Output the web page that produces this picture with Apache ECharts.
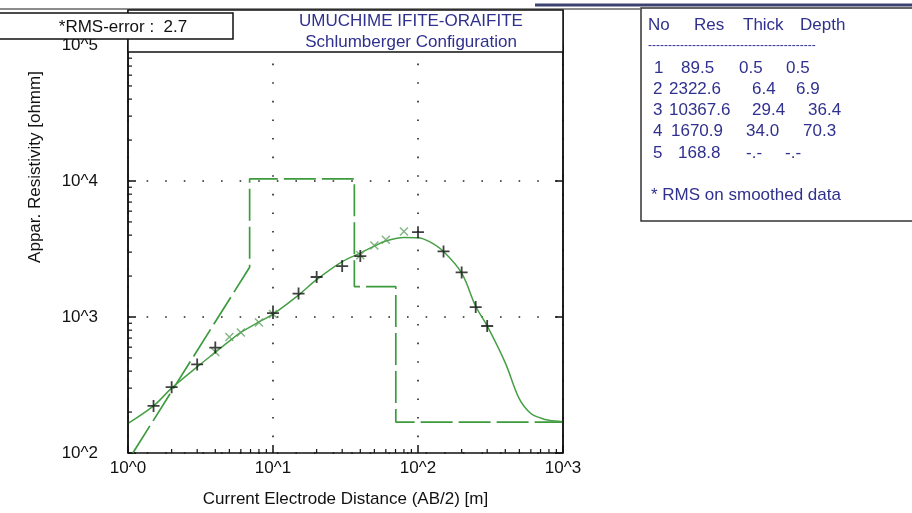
<!DOCTYPE html>
<html>
<head>
<meta charset="utf-8">
<title>UMUCHIME IFITE-ORAIFITE</title>
<script src="https://cdn.jsdelivr.net/npm/echarts@6/dist/echarts.min.js"></script>
<style>
  html, body { margin: 0; padding: 0; background: #fff; }
  #chart { width: 912px; height: 513px; }
</style>
</head>
<body>
<div id="chart"></div>
<script>
// Smoothed apparent resistivity curve (AB/2 in m, resistivity in ohm-m)
const curveX = [1, 1.5, 2, 3, 4, 5, 6, 8, 10, 15, 20, 30, 40, 50, 60, 80, 100, 120, 150, 200, 250, 300, 400, 500, 600, 700, 800, 1000];
const curveY = [165, 222, 300, 430, 550, 665, 770, 920, 1050, 1450, 1880, 2550, 2950, 3320, 3620, 3850, 3830, 3580, 3030, 2100, 1200, 860, 460, 250, 195, 181, 174, 170];

// Field readings
const fieldX = [1.5, 2, 3, 4, 10, 15, 20, 30, 40, 100, 150, 200, 250, 300];
const fieldY = [222, 305, 448, 596, 1069, 1486, 1968, 2368, 2803, 4204, 3033, 2128, 1183, 859];

// Smoothed readings
const smoothX = [4, 5, 6, 8, 10, 40, 50, 60, 80];
const smoothY = [553, 713, 769, 910, 1050, 2850, 3356, 3700, 4256];

// Layered model (inverted)
const layerNo = ['1', '2', '3', '4', '5'];
const layerRes = [89.5, 2322.6, 10367.6, 1670.9, 168.8];
const layerThick = ['0.5', '6.4', '29.4', '34.0', '-.-'];
const layerDepth = ['0.5', '6.9', '36.4', '70.3', '-.-'];
const modelStartX = 1.08;
const modelStartY = 100;

const xTickLabels = ['10^0', '10^1', '10^2', '10^3'];
const yTickLabels = ['10^2', '10^3', '10^4', '10^5'];
const rmsError = '2.7';

const FONT = '"Liberation Sans", Arial, sans-serif';
const NAVY = '#30308e';
const GREEN = '#3d9b3d';

// model step line built from resistivities and depths
const depthNums = layerDepth.slice(0, 4).map(Number);
const modelPts = [[modelStartX, modelStartY], [depthNums[1], layerRes[1]]];
for (let i = 2; i < layerRes.length; i++) {
  modelPts.push([depthNums[i - 1], layerRes[i]]);
  if (i < depthNums.length) modelPts.push([depthNums[i], layerRes[i]]);
}
modelPts.push([1000, layerRes[4]]);

// minor tick values for both log axes
function minorVals(lo, hi) {
  const out = [];
  for (let d = lo; d < hi; d *= 10) for (let k = 2; k <= 9; k++) out.push(d * k);
  return out;
}
const xMinor = minorVals(1, 1000);
const yMinor = minorVals(100, 100000);

const expLabel = (arr, base) => v => arr[Math.round(Math.log10(v)) - base] || '';

const chart = echarts.init(document.getElementById('chart'), null, { renderer: 'canvas' });

const GRID = { left: 128, right: 349, top: 45, bottom: 60 };

const option = {
  animation: false,
  backgroundColor: '#fff',
  grid: { left: GRID.left, right: GRID.right, top: GRID.top, bottom: GRID.bottom },
  xAxis: {
    type: 'log', logBase: 10, min: 1, max: 1000,
    name: 'Current Electrode Distance (AB/2) [m]',
    nameLocation: 'middle', nameGap: 38,
    nameTextStyle: { color: '#111', fontSize: 17, fontFamily: FONT },
    axisLine: { show: true, lineStyle: { color: '#111', width: 1.5 } },
    axisTick: { show: true, inside: true, length: 8, lineStyle: { color: '#111', width: 1.5 } },
    axisLabel: { color: '#111', fontSize: 17, fontFamily: FONT, margin: 7, formatter: expLabel(xTickLabels, 0) },
    splitLine: { show: true, lineStyle: { color: '#222', width: 1.6, type: [1.6, 17] } }
  },
  yAxis: [{
    type: 'log', logBase: 10, min: 100, max: 100000,
    axisLine: { show: true, lineStyle: { color: '#111', width: 1.5 } },
    axisTick: { show: true, inside: true, length: 8, lineStyle: { color: '#111', width: 1.5 } },
    axisLabel: { color: '#111', fontSize: 17, fontFamily: FONT, margin: 30, formatter: expLabel(yTickLabels, 2) },
    splitLine: { show: true, lineStyle: { color: '#222', width: 1.6, type: [1.6, 17] } }
  }, {
    type: 'log', logBase: 10, min: 100, max: 100000, position: 'right',
    axisLine: { show: true, lineStyle: { color: '#111', width: 1.5 } },
    axisTick: { show: true, inside: true, length: 8, lineStyle: { color: '#111', width: 1.5 } },
    axisLabel: { show: false },
    splitLine: { show: false }
  }],
  series: [
    {
      name: 'minor ticks',
      type: 'custom',
      silent: true,
      z: 5,
      data: xMinor.map(v => [v, 0]).concat(yMinor.map(v => [0, v])),
      renderItem: function (params, api) {
        const xv = api.value(0), yv = api.value(1);
        const rect = params.coordSys;
        let x1, y1, x2, y2;
        if (xv > 0) {
          const p = api.coord([xv, 100]);
          x1 = x2 = p[0]; y1 = rect.y + rect.height; y2 = y1 - 4;
        } else {
          const p = api.coord([1, yv]);
          y1 = y2 = p[1]; x1 = rect.x; x2 = x1 + 4;
        }
        return { type: 'line', shape: { x1, y1, x2, y2 }, style: { stroke: '#111', lineWidth: 1.2 } };
      }
    },
    {
      name: 'model',
      type: 'line',
      data: modelPts,
      symbol: 'none',
      z: 3,
      lineStyle: { color: GREEN, width: 1.7, type: [32, 6] }
    },
    {
      name: 'curve',
      type: 'line',
      data: curveX.map((x, i) => [x, curveY[i]]),
      symbol: 'none',
      smooth: 0.35,
      z: 4,
      lineStyle: { color: '#45a045', width: 1.5 }
    },
    {
      name: 'smoothed',
      type: 'scatter',
      data: smoothX.map((x, i) => [x, smoothY[i]]),
      symbol: 'path://M0,0L10,10M10,0L0,10',
      symbolSize: 8,
      z: 6,
      itemStyle: { color: 'none', borderColor: '#62a062', borderWidth: 1.4 }
    },
    {
      name: 'field',
      type: 'scatter',
      data: fieldX.map((x, i) => [x, fieldY[i]]),
      symbol: 'path://M0,5L10,5M5,0L5,10',
      symbolSize: 12,
      z: 7,
      itemStyle: { color: 'none', borderColor: '#111', borderWidth: 1.8 }
    }
  ]
};

chart.setOption(option);

// frame, header boxes and the layer table
const gl = GRID.left, gr = 912 - GRID.right, gb = 513 - GRID.bottom;
const frameTop = 10, headerBottom = 52;
const tableLeft = 641, tableTop = 8, tableBottom = 221;

const tableCols = [
  { x: [654, 681, 739, 786] },
  { x: [653, 669, 752, 796] },
  { x: [653, 669, 752, 808] },
  { x: [653, 671, 746, 803] },
  { x: [653, 678, 746, 785] }
];
const rowY = [68, 89, 110, 131, 153];

const tableTexts = [];
const headers = [['No', 648], ['Res', 694], ['Thick', 743], ['Depth', 800]];
headers.forEach(h => tableTexts.push({ text: h[0], x: h[1], y: 25 }));
tableTexts.push({ text: '------------------------------------------', x: 648, y: 46, size: 12 });
layerNo.forEach((no, i) => {
  const cells = [no, String(layerRes[i]), layerThick[i], layerDepth[i]];
  cells.forEach((c, j) => tableTexts.push({ text: c, x: tableCols[i].x[j], y: rowY[i] }));
});
tableTexts.push({ text: '* RMS on smoothed data', x: 651, y: 195 });

const graphics = [
  // top rules
  { type: 'line', shape: { x1: 0, y1: 9, x2: 640, y2: 9 }, style: { stroke: '#666', lineWidth: 1.5 }, z: 100 },
  { type: 'line', shape: { x1: 535, y1: 5, x2: 912, y2: 5 }, style: { stroke: '#3c4270', lineWidth: 3 }, z: 100 },
  // plot frame sides above the grid
  { type: 'line', shape: { x1: gl, y1: frameTop, x2: gl, y2: gb }, style: { stroke: '#111', lineWidth: 1.5 }, z: 100 },
  { type: 'line', shape: { x1: gr, y1: frameTop, x2: gr, y2: gb }, style: { stroke: '#111', lineWidth: 1.5 }, z: 100 },
  // title box
  { type: 'rect', shape: { x: gl, y: frameTop, width: gr - gl, height: headerBottom - frameTop },
    style: { fill: '#fff', stroke: '#111', lineWidth: 1.5 }, z: 101 },
  { type: 'text', x: 411, y: 21, z: 102,
    style: { text: 'UMUCHIME IFITE-ORAIFITE', fill: NAVY, font: '17px ' + FONT, textAlign: 'center', textVerticalAlign: 'middle' } },
  { type: 'text', x: 411, y: 42, z: 102,
    style: { text: 'Schlumberger Configuration', fill: NAVY, font: '17px ' + FONT, textAlign: 'center', textVerticalAlign: 'middle' } },
  // RMS box
  { type: 'rect', shape: { x: -2, y: 13, width: 235, height: 26 },
    style: { fill: '#fff', stroke: '#111', lineWidth: 1.5 }, z: 103 },
  { type: 'text', x: 123, y: 27, z: 104,
    style: { text: '*RMS-error :  ' + rmsError, fill: '#111', font: '17px ' + FONT, textAlign: 'center', textVerticalAlign: 'middle' } },
  // y-axis title
  { type: 'text', x: 35, y: 167, rotation: Math.PI / 2, z: 100,
    style: { text: 'Appar. Resistivity [ohmm]', fill: '#111', font: '17px ' + FONT, textAlign: 'center', textVerticalAlign: 'middle' } },
  // layer table box
  { type: 'rect', shape: { x: tableLeft, y: tableTop, width: 300, height: tableBottom - tableTop },
    style: { fill: '#fff', stroke: '#333', lineWidth: 1.5 }, z: 100 }
];
tableTexts.forEach(t => graphics.push({
  type: 'text', x: t.x, y: t.y, z: 101,
  style: { text: t.text, fill: NAVY, font: (t.size || 17) + 'px ' + FONT, textAlign: 'left', textVerticalAlign: 'middle' }
}));

chart.setOption({ graphic: graphics });
</script>
</body>
</html>
